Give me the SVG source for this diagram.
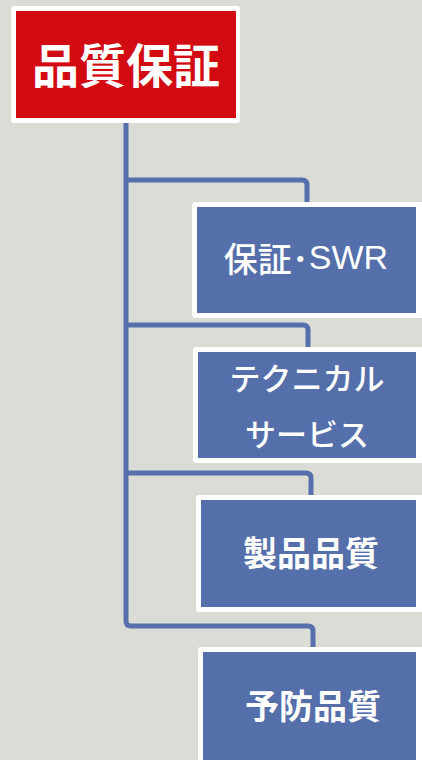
<svg xmlns="http://www.w3.org/2000/svg" width="422" height="760" viewBox="0 0 422 760">
<style>
.frame{fill:#FFFFFF}
.blue{fill:#546FAA}
.red{fill:#D20A11}
.conn{fill:none;stroke:#5670AC;stroke-width:5;stroke-linejoin:round}
.t{fill:#FFFFFF;font-family:"Noto Sans CJK JP","Noto Sans",sans-serif;text-anchor:middle;dominant-baseline:central}
.m{font-weight:500}
</style>
<rect x="0" y="0" width="422" height="760" fill="#DCDCD6"/>
<g id="connectors">
<path class="conn" d="M126,120 V621 Q126,626 131,626 H308 Q313,626 313,631 V650"/>
<path class="conn" d="M126,180 H302 Q307,180 307,185 V205"/>
<path class="conn" d="M126,325 H303 Q308,325 308,330 V350"/>
<path class="conn" d="M126,473 H306 Q311,473 311,478 V498"/>
</g>
<g id="node-hinshitsu-hosho">
<rect class="frame" x="11" y="6" width="229" height="117" rx="3"/>
<rect class="red" x="16" y="11" width="220" height="107"/>
<text class="t" x="126" y="62" font-size="47" font-weight="bold">品質保証</text>
</g>
<g id="node-hosho-swr">
<rect class="frame" x="192" y="202" width="232" height="116" rx="3"/>
<rect class="blue" x="197" y="207" width="219" height="106"/>
<text class="t m" x="306" y="257" font-size="34"><tspan>保証･</tspan><tspan font-family="Liberation Sans,sans-serif">SWR</tspan></text>
</g>
<g id="node-technical-service">
<rect class="frame" x="193" y="347" width="231" height="116" rx="3"/>
<rect class="blue" x="198" y="352" width="218" height="106"/>
<text class="t m" x="307" y="376" font-size="31">テクニカル</text>
<text class="t m" x="307" y="432" font-size="31">サービス</text>
</g>
<g id="node-seihin-hinshitsu">
<rect class="frame" x="196" y="495" width="228" height="117" rx="3"/>
<rect class="blue" x="201" y="500" width="215" height="107"/>
<text class="t" x="311" y="551" font-size="34" font-weight="bold">製品品質</text>
</g>
<g id="node-yobo-hinshitsu">
<rect class="frame" x="198" y="647" width="226" height="120" rx="3"/>
<rect class="blue" x="203" y="652" width="213" height="115"/>
<text class="t" x="313" y="704" font-size="34" font-weight="bold">予防品質</text>
</g>
</svg>
